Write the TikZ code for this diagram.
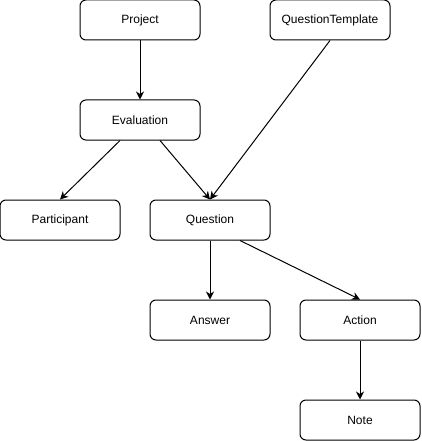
\documentclass[tikz,border=0pt]{standalone}
\usepackage{fontspec}
\setmainfont{Liberation Sans}
\usetikzlibrary{arrows.meta}
\tikzset{
  entity/.style={draw=black, line width=1pt, rounded corners=6pt, fill=white,
    minimum width=120pt, minimum height=40pt, inner sep=0pt,
    font=\fontsize{12}{14}\selectfont},
  link/.style={line width=1pt, -{Stealth[length=8pt,width=8pt,inset=2.5pt]}}
}
\begin{document}
\begin{tikzpicture}[x=1pt,y=-1pt]
\useasboundingbox (0,0) rectangle (421,441);
\node[entity] (project) at (140,20) {Project};
\node[entity] (template) at (330,20) {QuestionTemplate};
\node[entity] (evaluation) at (140,120) {Evaluation};
\node[entity] (participant) at (60,220) {Participant};
\node[entity] (question) at (210,220) {Question};
\node[entity] (answer) at (210,320) {Answer};
\node[entity] (action) at (360,320) {Action};
\node[entity] (note) at (360,420) {Note};
\draw[link] (project)--(evaluation);
\draw[link] ([xshift=-20pt]evaluation.south)--(participant.north);
\draw[link] ([xshift=20pt]evaluation.south)--(question.north);
\draw[link] (template.south)--(question.north);
\draw[link] (question)--(answer);
\draw[link] ([xshift=30pt]question.south)--(action.north);
\draw[link] (action)--(note);
\end{tikzpicture}
\end{document}
